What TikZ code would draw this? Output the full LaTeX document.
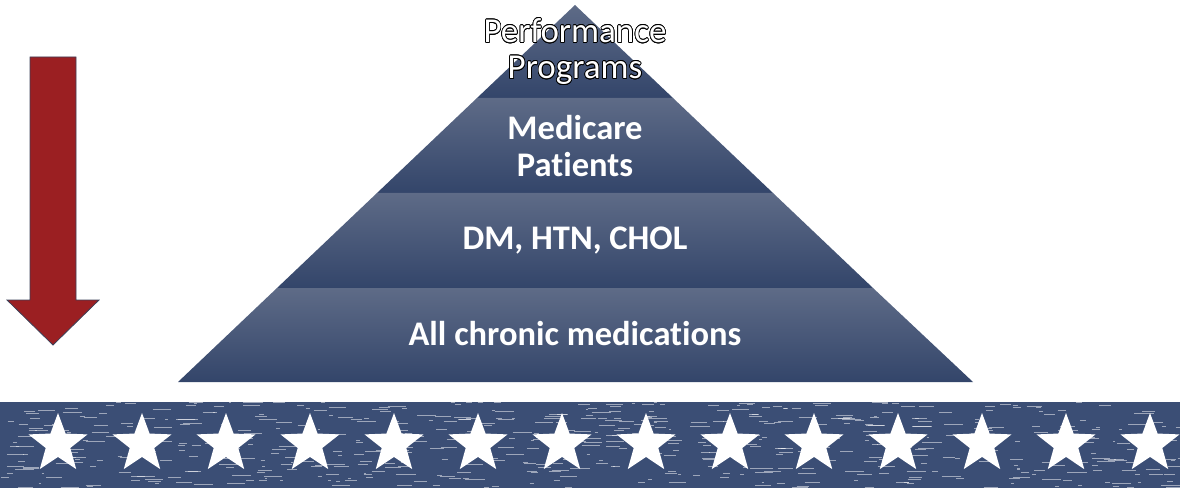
\documentclass[tikz,border=0pt]{standalone}
\usepackage{fontspec}
\setmainfont[Ligatures=NoCommon]{Carlito}
\usepackage[copies]{contour}
\usetikzlibrary{shapes.geometric}
\definecolor{layerTop}{HTML}{5E6B87}
\definecolor{layerBot}{HTML}{33456A}
\definecolor{bandBL}{HTML}{3B4E75}
\definecolor{arrowRD}{HTML}{9B1F22}
\definecolor{arrowBD}{HTML}{3C4058}
\tikzstyle{layerBL} = [top color=layerTop, bottom color=layerBot, draw=none]
\tikzstyle{textWH} = [text=white, font=\fontsize{34.5}{37}\selectfont\bfseries, align=center]
\tikzstyle{textOL} = [text=white, font=\fontsize{35}{36}\selectfont, align=center]
\tikzstyle{starWH} = [star, star points=5, star point ratio=2.4, fill=white, minimum size=62pt, inner sep=0pt]
\contourlength{0.7pt}

\begin{document}
\begin{tikzpicture}[x=1pt, y=-1pt]
  \useasboundingbox (0,0) rectangle (1180,489);

  % pyramid layers
  \path [layerBL] (575,5) -- (673,98) -- (477,98) -- cycle;
  \path [layerBL] (477,98) -- (673,98) -- (773,193) -- (377,193) -- cycle;
  \path [layerBL] (377,193) -- (773,193) -- (873,288) -- (277,288) -- cycle;
  \path [layerBL] (277,288) -- (873,288) -- (973,382) -- (178,382) -- cycle;

  % labels
  \node [textOL] (perf) at (575,52) {\contour{black}{Performance}\\\contour{black}{Programs}};
  \node [textWH] (medicare) at (575,146) {Medicare\\Patients};
  \node [textWH] (dm) at (575,241) {DM, HTN, CHOL};
  \node [textWH] (chronic) at (575,334) {All chronic medications};

  % arrow
  \draw [fill=arrowRD, draw=arrowBD, line width=0.8pt]
    (30,57) -- (76,57) -- (76,300) -- (99,300) -- (53,345) -- (7,300) -- (30,300) -- cycle;

  % star band
  \fill [bandBL] (0,402) rectangle (1180,488);
  \pgfmathsetseed{11}
  \foreach \i in {1,...,600} {
    \pgfmathsetmacro{\sx}{rnd*1180}
    \pgfmathsetmacro{\sy}{402+rnd*86}
    \pgfmathsetmacro{\sl}{2+rnd*18}
    \draw [white, opacity=0.5, line width=0.9pt] (\sx,\sy) -- ++(\sl,0);
  }
  \foreach \k in {0,...,13} {
    \node [starWH] (star\k) at (58+\k*84,444) {};
  }
\end{tikzpicture}
\end{document}
